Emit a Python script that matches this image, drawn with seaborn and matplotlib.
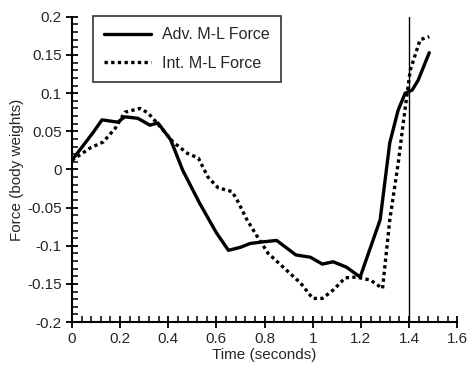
import matplotlib
matplotlib.use("Agg")
import matplotlib.pyplot as plt
import matplotlib.ticker as ticker
import pandas as pd
import seaborn as sns

# Adv. M-L force (solid)
ADV_TIME = [0.0, 0.087, 0.125, 0.19, 0.22, 0.274, 0.324, 0.357, 0.41, 0.46, 0.53,
            0.6, 0.65, 0.70, 0.74, 0.79, 0.85, 0.93, 0.99, 1.04, 1.085, 1.14, 1.197,
            1.28, 1.32, 1.355, 1.384, 1.413, 1.438, 1.484]
ADV_FORCE = [0.012, 0.048, 0.065, 0.062, 0.069, 0.067, 0.058, 0.061, 0.039, -0.001,
             -0.044, -0.083, -0.106, -0.102, -0.097, -0.095, -0.093, -0.112, -0.115,
             -0.124, -0.121, -0.128, -0.141, -0.066, 0.035, 0.078, 0.1, 0.104, 0.117,
             0.153]

# Int. M-L force (dotted)
INT_TIME = [0.0, 0.033, 0.075, 0.13, 0.18, 0.22, 0.283, 0.316, 0.353, 0.42, 0.48,
            0.525, 0.565, 0.607, 0.665, 0.686, 0.727, 0.77, 0.815, 0.86, 0.95, 1.0,
            1.04, 1.085, 1.135, 1.18, 1.24, 1.29, 1.32, 1.355, 1.376, 1.405, 1.446,
            1.484]
INT_FORCE = [0.012, 0.019, 0.028, 0.036, 0.054, 0.075, 0.08, 0.074, 0.061, 0.036,
             0.021, 0.015, -0.01, -0.024, -0.029, -0.04, -0.066, -0.088, -0.11, -0.123,
             -0.149, -0.169, -0.169, -0.158, -0.142, -0.141, -0.145, -0.156, -0.066,
             0.008, 0.061, 0.13, 0.17, 0.174]

LABELS = ["Adv. M-L Force", "Int. M-L Force"]
MARK_TIME = 1.4

df = pd.concat([
    pd.DataFrame({"time": ADV_TIME, "force": ADV_FORCE, "series": LABELS[0]}),
    pd.DataFrame({"time": INT_TIME, "force": INT_FORCE, "series": LABELS[1]}),
])

sns.set_style("ticks")
plt.rcParams["font.family"] = ["Liberation Sans", "DejaVu Sans"]
plt.rcParams["axes.unicode_minus"] = False

fig = plt.figure(figsize=(4.67, 3.66), dpi=100)
ax = fig.add_axes([0.154, 0.12, 0.825, 0.834])

sns.lineplot(
    data=df, x="time", y="force", hue="series", style="series",
    palette=["black", "black"],
    dashes={LABELS[0]: "", LABELS[1]: (1, 1)},
    sort=False, estimator=None, linewidth=2.4, ax=ax,
)

ax.axvline(MARK_TIME, color="black", lw=1)

ax.set_xlim(0, 1.6)
ax.set_ylim(-0.2, 0.2)
ax.xaxis.set_major_locator(ticker.MultipleLocator(0.2))
ax.yaxis.set_major_locator(ticker.MultipleLocator(0.05))
ax.xaxis.set_minor_locator(ticker.AutoMinorLocator(5))
ax.yaxis.set_minor_locator(ticker.AutoMinorLocator(5))
ax.xaxis.set_major_formatter(ticker.FormatStrFormatter("%g"))
ax.yaxis.set_major_formatter(ticker.FuncFormatter(lambda v, p: "%g" % round(v, 3)))
ax.tick_params(which="major", direction="inout", length=8, width=1.3, labelsize=11, color="black")
ax.tick_params(which="minor", direction="in", length=4, width=1.1, color="black")
for s in ["left", "bottom"]:
    ax.spines[s].set_linewidth(1.5)
    ax.spines[s].set_color("black")
sns.despine(ax=ax)

ax.set_xlabel("Time (seconds)", fontsize=11, labelpad=1)
ax.set_ylabel("Force (body weights)", fontsize=11, labelpad=2)

leg = ax.legend(loc="upper left", bbox_to_anchor=(0.055, 1.003), borderaxespad=0,
                fontsize=11.5, frameon=True, fancybox=False, edgecolor="black",
                handlelength=2.9, borderpad=0.7, labelspacing=0.85, handletextpad=0.7)
leg.get_frame().set_linewidth(1.2)

fig.savefig("out.png", dpi=100)
